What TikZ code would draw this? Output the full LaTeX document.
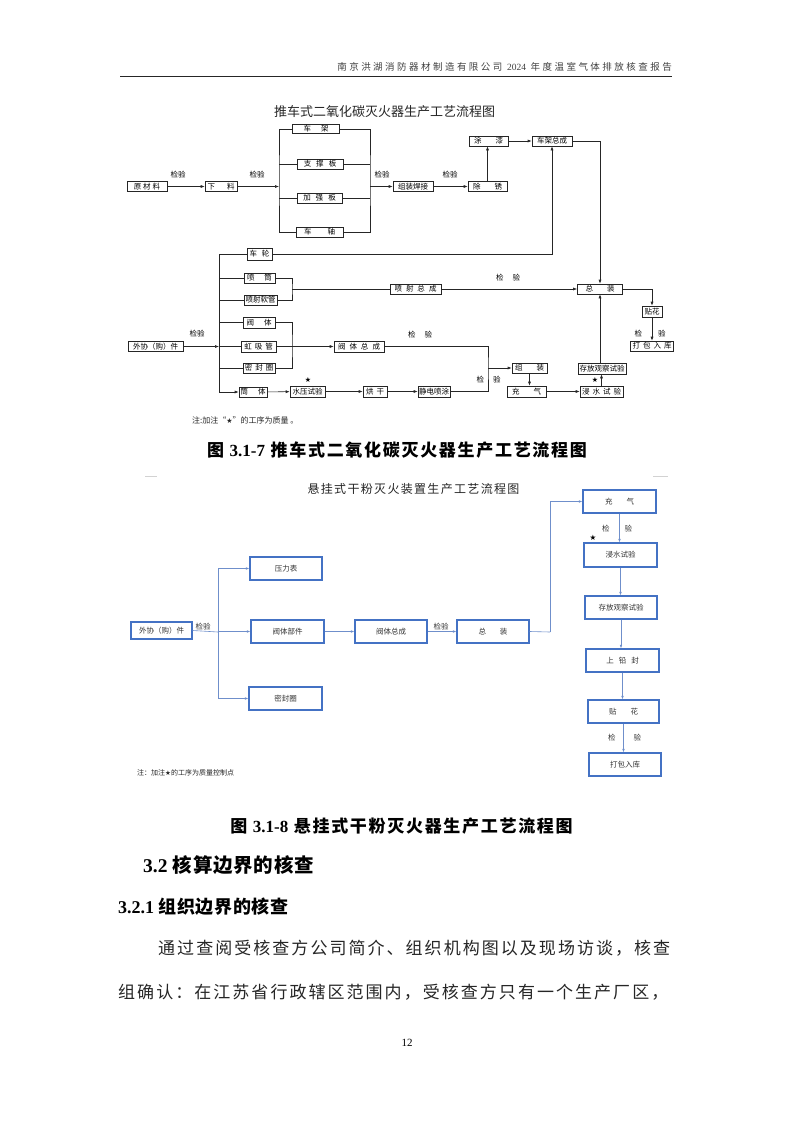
\documentclass[tikz,border=0pt]{standalone}
\usepackage{fontspec}
\newfontfamily\cjk{Noto Sans CJK SC}
\newfontfamily\tnr{Liberation Serif}
\newfontfamily\djv{DejaVu Sans}
\usetikzlibrary{arrows.meta}
\definecolor{bx}{HTML}{4472C4}
\definecolor{ln}{HTML}{6F8FCB}
\newcommand\fA{\cjk\fontsize{7.5}{7.5}\selectfont}
\newcommand\fB{\cjk\fontsize{7.5}{7.5}\selectfont\color{black!80}}
\begin{document}
\begin{tikzpicture}[x=1pt,y=-1pt,
  bA/.style={draw=black!85,line width=0.55pt,inner sep=0pt,minimum height=10pt,font=\fA},
  bB/.style={draw=bx,line width=1.3pt,inner sep=0pt,minimum width=72pt,minimum height=23pt,font=\fB},
  lA/.style={draw=black!85,line width=0.55pt},
  aA/.style={lA,-{Latex[length=4pt,width=3pt]}},
  lB/.style={draw=ln,line width=0.6pt},
  aB/.style={lB,-{Latex[length=3.5pt,width=2.6pt]}},
  lab/.style={inner sep=0pt,font=\fA},
  labB/.style={inner sep=0pt,font=\fB},
  txt/.style={inner sep=0pt}]
\fill[white] (0,0) rectangle (794,1122);
\useasboundingbox (0,0) rectangle (794,1122);

% ---------- header ----------
\node[txt,anchor=east] (hdr) at (672,67) {\cjk\fontsize{9.5}{9.5}\selectfont\addfontfeatures{LetterSpace=26}\color{black!75}南京洪湖消防器材制造有限公司 {\tnr 2024} 年度温室气体排放核查报告};
\draw[line width=0.9pt,black!85] (120,76) -- (672,76);

% ---------- figure 1 ----------
\node[txt] (t1) at (384.5,112) {\cjk\fontsize{13}{13}\selectfont\color{black!85}推车式二氧化碳灭火器生产工艺流程图};

\node[bA,minimum width=47pt,minimum height=9pt] (chejia) at (316,129) {车\hspace{10pt}架};
\node[bA,minimum width=46pt] (zhicheng) at (320,164) {支\hspace{5pt}撑\hspace{5pt}板};
\node[bA,minimum width=45pt] (jiaqiang) at (319.5,198) {加\hspace{5pt}强\hspace{5pt}板};
\node[bA,minimum width=47pt] (chezhou) at (319.5,232) {车\hspace{16pt}轴};
\node[bA,minimum width=40pt] (yuancai) at (147,186.5) {原\hspace{2pt}材\hspace{2pt}料};
\node[bA,minimum width=32pt] (xialiao) at (221,186.5) {下\hspace{12pt}料};
\node[bA,minimum width=40pt] (zzhj) at (413,186.5) {组装焊接};
\node[bA,minimum width=39pt] (chuxiu) at (487.5,186.5) {除\hspace{14pt}锈};
\node[bA,minimum width=39pt] (tuqi) at (488.5,141) {涂\hspace{14pt}漆};
\node[bA,minimum width=40pt] (cjzc) at (552,141) {车架总成};

\node[bA,minimum width=25pt,minimum height=12pt] (chelun) at (259.5,254) {车\hspace{5pt}轮};
\node[bA,minimum width=31pt] (pentong) at (259.5,278) {喷\hspace{10pt}筒};
\node[bA,minimum width=33pt] (penshe) at (260.5,300) {喷射软管};
\node[bA,minimum width=51pt] (pszc) at (415.5,289) {喷\hspace{4pt}射\hspace{4pt}总\hspace{4pt}成};
\node[bA,minimum width=45pt] (zongzhuang) at (600,289) {总\hspace{14pt}装};
\node[bA,minimum width=32pt,minimum height=11pt] (fati) at (259,322.5) {阀\hspace{10pt}体};
\node[bA,minimum width=35pt,minimum height=11pt] (hongxi) at (258.5,346.5) {虹\hspace{3pt}吸\hspace{3pt}管};
\node[bA,minimum width=32pt] (mifeng) at (259,368) {密\hspace{3pt}封\hspace{3pt}圈};
\node[bA,minimum width=50pt,minimum height=11pt] (ftzc) at (359,346.5) {阀\hspace{4pt}体\hspace{4pt}总\hspace{4pt}成};
\node[bA,minimum width=55pt] (waixie) at (155.5,346.5) {外协（购）件};
\node[bA,minimum width=28pt] (tongti) at (253,392) {筒\hspace{10pt}体};
\node[bA,minimum width=35pt,minimum height=11pt] (shuiya) at (307.5,391.5) {水压试验};
\node[bA,minimum width=24pt,minimum height=11pt] (honggan) at (375,391.5) {烘\hspace{3pt}干};
\node[bA,minimum width=32pt,minimum height=11pt] (jingdian) at (434,391.5) {静电喷涂};
\node[bA,minimum width=35pt] (zuzh) at (529.5,368) {组\hspace{14pt}装};
\node[bA,minimum width=39pt,minimum height=11pt] (chongqi) at (526.5,391.5) {充\hspace{14pt}气};
\node[bA,minimum width=43pt,minimum height=11pt] (jinshui) at (601.5,391.5) {浸\hspace{3pt}水\hspace{3pt}试\hspace{3pt}验};
\node[bA,minimum width=48pt,minimum height=11pt] (cunfang) at (602,368.5) {存放观察试验};
\node[bA,minimum width=20pt,minimum height=11pt] (tiehua) at (652,311.5) {贴花};
\node[bA,minimum width=43pt] (dabao) at (652,346) {打\hspace{3pt}包\hspace{3pt}入\hspace{3pt}库};

\coordinate (bl) at (279,180);
\coordinate (br) at (370,180);
\coordinate (bus) at (219,320);
\coordinate (pb) at (292,289);
\coordinate (fb) at (292,346.5);
\coordinate (jn) at (488,368);

% top part
\draw[aA] (yuancai) -- (xialiao);
\draw[aA] (xialiao) -- (xialiao -| bl);
\draw[lA] (chejia.west) -| (bl) |- (chezhou.west);
\draw[lA] (bl |- zhicheng.west) -- (zhicheng.west);
\draw[lA] (bl |- jiaqiang.west) -- (jiaqiang.west);
\draw[lA] (chejia.east) -| (br) |- (chezhou.east);
\draw[lA] (zhicheng.east) -- (zhicheng.east -| br);
\draw[lA] (jiaqiang.east) -- (jiaqiang.east -| br);
\draw[aA] (br |- zzhj.west) -- (zzhj.west);
\draw[aA] (zzhj) -- (chuxiu);
\draw[aA] (chuxiu.north) -- (chuxiu.north |- tuqi.south);
\draw[aA] (tuqi) -- (cjzc);
\draw[aA] (cjzc.east) -| (zongzhuang.north);
\draw[aA] (chelun.east) -| (cjzc.south);
\node[lab] (l1) at (178,175) {检验};
\node[lab] (l2) at (257,175) {检验};
\node[lab] (l3) at (382,175) {检验};
\node[lab] (l4) at (450,175) {检验};

% lower part
\draw[aA] (waixie.east) -- (waixie.east -| bus);
\draw[lA] (bus |- chelun.west) -- (bus |- tongti.west);
\draw[lA] (bus |- chelun.west) -- (chelun.west);
\draw[lA] (bus |- pentong.west) -- (pentong.west);
\draw[lA] (bus |- penshe.west) -- (penshe.west);
\draw[lA] (bus |- fati.west) -- (fati.west);
\draw[lA] (bus |- hongxi.west) -- (hongxi.west);
\draw[lA] (bus |- mifeng.west) -- (mifeng.west);
\draw[aA] (bus |- tongti.west) -- (tongti.west);
\node[lab] (l5) at (197,334) {检验};

\draw[lA] (pentong.east) -| (pb) |- (penshe.east);
\draw[lA] (pb) -- (pb -| pszc.west);
\draw[aA] (pszc.east) -- (pszc.east -| zongzhuang.west);
\node[lab] (l6) at (508,278) {检\hspace{9pt}验};

\draw[lA] (fati.east) -| (fb) |- (mifeng.east);
\draw[aA] (hongxi.east) -- (ftzc.west);
\node[lab] (l7) at (420,335) {检\hspace{9pt}验};
\draw[lA] (ftzc.east) -| (jn) |- (jingdian.east);
\draw[aA] (jn) -- (zuzh.west);
\node[lab] (l8) at (488.5,380) {检\hspace{9pt}验};

\draw[aA] (tongti) -- (shuiya);
\draw[aA] (shuiya) -- (honggan);
\draw[aA] (honggan) -- (jingdian);
\node[txt,font=\djv\fontsize{7}{7}\selectfont] (s1) at (308,380) {★};

\draw[aA] (zuzh.south) -- (zuzh.south |- chongqi.north);
\draw[aA] (chongqi) -- (jinshui);
\draw[aA] (jinshui.north) -- (jinshui.north |- cunfang.south);
\node[txt,font=\djv\fontsize{7}{7}\selectfont] (s2) at (595,380) {★};
\draw[aA] (cunfang.north -| zongzhuang.south) -- (zongzhuang.south);
\draw[aA] (zongzhuang.east) -| (tiehua.north);
\draw[aA] (tiehua.south) -- (tiehua.south |- dabao.north);
\node[lab] (l9) at (650,334) {检\hspace{16pt}验};

\node[txt,anchor=west] (n1) at (192,420) {\cjk\fontsize{8}{8}\selectfont\color{black!85}注:加注“{\djv\fontsize{7}{7}\selectfont ★}”的工序为质量 。};

% caption 1
\node[txt] (c1) at (397,450) {\cjk\fontsize{17}{17}\selectfont\bfseries\addfontfeatures{LetterSpace=10}图 {\tnr\bfseries 3.1-7} 推车式二氧化碳灭火器生产工艺流程图};

% ---------- figure 2 ----------
\draw[gray!35,line width=0.6pt] (145,476) -- (157,476);
\draw[gray!35,line width=0.6pt] (653,476) -- (668,476);
\node[txt] (t2) at (413.5,489) {\cjk\fontsize{12}{12}\selectfont\addfontfeatures{LetterSpace=11}\color{black!85}悬挂式干粉灭火装置生产工艺流程图};

\node[bB] (ylb) at (286,568.5) {压力表};
\node[bB,minimum width=73pt] (ftbj) at (287.5,631.5) {阀体部件};
\node[bB,minimum width=73pt] (mfq) at (285.5,698.5) {密封圈};
\node[bB,minimum width=61pt,minimum height=17pt] (wx2) at (161.5,630.5) {外协（购）件};
\node[bB] (ftzc2) at (391,631.5) {阀体总成};
\node[bB] (zz2) at (493,631.5) {总\hspace{14pt}装};
\node[bB,minimum width=73pt] (cq2) at (619.5,501.5) {充\hspace{14pt}气};
\node[bB,minimum width=73pt,minimum height=24pt] (js2) at (620.5,555) {浸水试验};
\node[bB] (cf2) at (621,607.5) {存放观察试验};
\node[bB,minimum width=73pt] (sqf) at (622.5,660.5) {上\hspace{5pt}铅\hspace{5pt}封};
\node[bB,minimum width=71pt] (th2) at (623.5,711.5) {贴\hspace{14pt}花};
\node[bB] (db2) at (625,764.5) {打包入库};

\coordinate (bus2) at (218,632);
\coordinate (up2) at (550,632);
\draw[lB] (wx2.east) -- (bus2);
\draw[lB] (bus2 |- ylb.west) -- (bus2 |- mfq.west);
\draw[aB] (bus2 |- ylb.west) -- (ylb.west);
\draw[aB] (bus2 |- ftbj.west) -- (ftbj.west);
\draw[aB] (bus2 |- mfq.west) -- (mfq.west);
\node[labB] (m1) at (203,627) {检验};
\draw[aB] (ftbj) -- (ftzc2);
\draw[aB] (ftzc2) -- (zz2);
\node[labB] (m2) at (441,627) {检验};
\draw[lB] (zz2.east) -- (up2);
\draw[aB] (up2) |- (cq2.west);
\draw[aB] (cq2.south) -- (cq2.south |- js2.north);
\node[labB] (m3) at (617,529) {检\hspace{15pt}验};
\node[txt,font=\djv\fontsize{7.5}{7.5}\selectfont] (s3) at (593,538) {★};
\draw[aB] (js2.south) -- (js2.south |- cf2.north);
\draw[aB] (cf2.south) -- (cf2.south |- sqf.north);
\draw[aB] (sqf.south) -- (sqf.south |- th2.north);
\draw[aB] (th2.south) -- (th2.south |- db2.north);
\node[labB] (m4) at (624.5,738) {检\hspace{18pt}验};

\node[txt,anchor=west] (n2) at (137,773) {\cjk\fontsize{7}{7}\selectfont\color{black!85}注：加注{\djv\fontsize{6.5}{6.5}\selectfont ★}的工序为质量控制点};

% caption 2
\node[txt] (c2) at (401.5,826) {\cjk\fontsize{17}{17}\selectfont\bfseries\addfontfeatures{LetterSpace=10}图 {\tnr\bfseries 3.1-8} 悬挂式干粉灭火器生产工艺流程图};

% ---------- body ----------
\node[txt,anchor=west] (h1) at (143,865) {\cjk\fontsize{19.5}{19.5}\selectfont\bfseries\addfontfeatures{LetterSpace=4}{\tnr\bfseries 3.2} 核算边界的核查};
\node[txt,anchor=west] (h2) at (118,907) {\cjk\fontsize{18}{18}\selectfont\bfseries\addfontfeatures{LetterSpace=3}{\tnr\bfseries 3.2.1} 组织边界的核查};
\node[txt,anchor=west] (p1) at (158,948) {\cjk\fontsize{17}{17}\selectfont\addfontfeatures{LetterSpace=12}\color{black!85}通过查阅受核查方公司简介、组织机构图以及现场访谈，核查};
\node[txt,anchor=west] (p2) at (118,992) {\cjk\fontsize{17}{17}\selectfont\addfontfeatures{LetterSpace=12}\color{black!85}组确认：在江苏省行政辖区范围内，受核查方只有一个生产厂区，};
\node[txt] (pg) at (407,1043) {\tnr\fontsize{11}{11}\selectfont 12};
\end{tikzpicture}
\end{document}
